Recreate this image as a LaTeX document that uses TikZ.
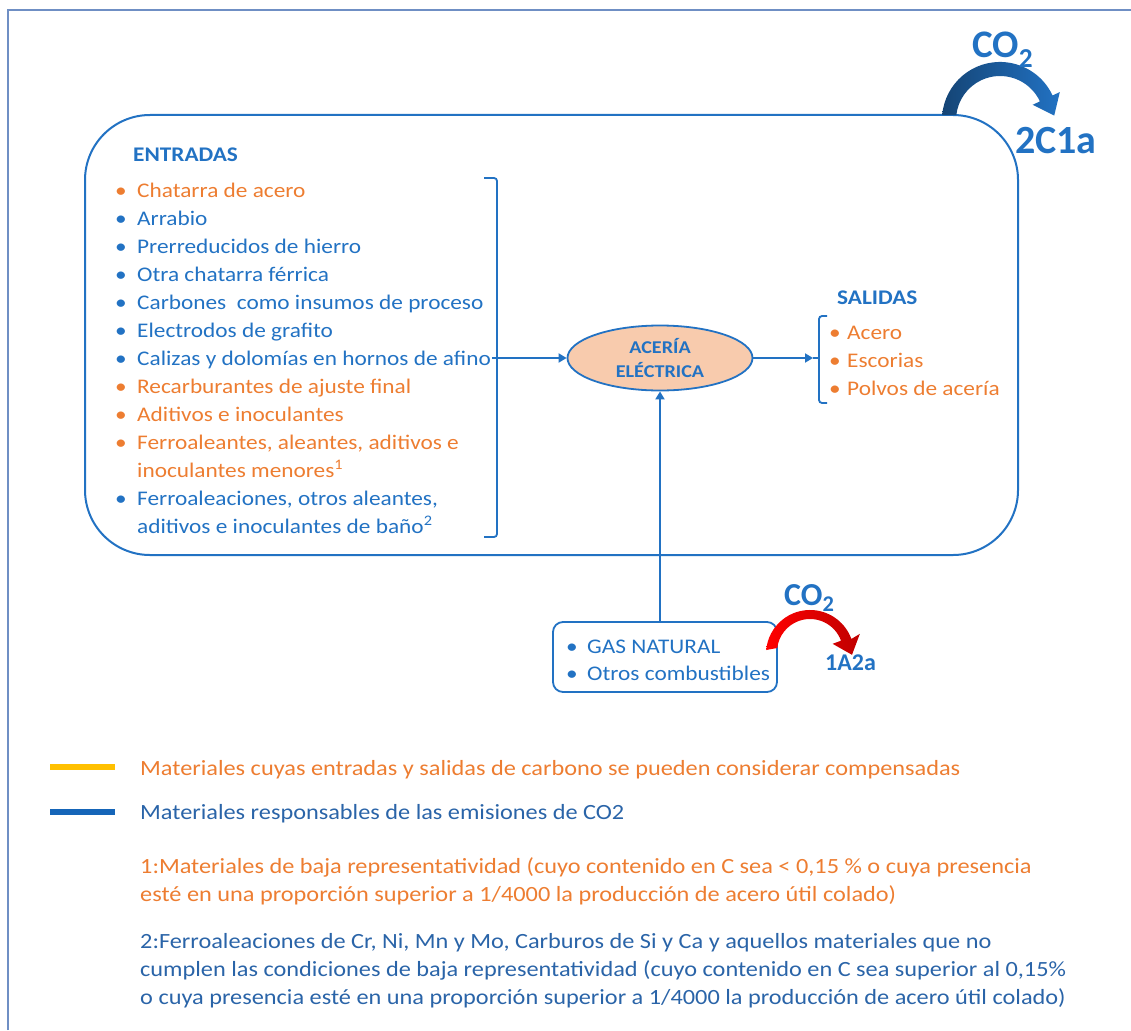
\documentclass[tikz,border=0pt]{standalone}
\usepackage{fontspec}
\setmainfont{Carlito}[FakeStretch=1.12]
\newfontfamily\plainfont{Carlito}
\usetikzlibrary{arrows.meta,shapes.geometric}
\definecolor{dblue}{HTML}{2272C3}
\definecolor{lblue}{HTML}{2A64A8}
\definecolor{orng}{HTML}{ED7D31}
\definecolor{framec}{HTML}{6F8FC4}
\definecolor{peach}{HTML}{F8CBAD}
\definecolor{ylw}{HTML}{FFC000}
\definecolor{legblue}{HTML}{1565B8}
\begin{document}
\begin{tikzpicture}[x=1pt,y=-1pt,
  txt/.style={anchor=base west, inner sep=0pt, font=\fontsize{20.8}{24}\selectfont},
  bluetxt/.style={txt,text=dblue},
  orgtxt/.style={txt,text=orng},
  headtxt/.style={txt,text=dblue,font=\fontsize{20.8}{24}\selectfont\bfseries},
  conn/.style={draw=dblue,line width=1.8pt},
  tipped/.style={conn,-{Triangle[length=8pt,width=9pt]}},
  legtxt/.style={anchor=base west, inner sep=0pt, font=\fontsize{21.7}{26}\selectfont},
  notetxt/.style={anchor=base west, inner sep=0pt, font=\fontsize{21.7}{25}\selectfont},
  co/.style={anchor=base west, inner sep=0pt, text=dblue}]
\useasboundingbox (0,0) rectangle (1131,1030);
% frame
\draw[framec, line width=1.5pt] (8,1030) -- (8,10) -- (1131,10);

% big box
\node[draw=dblue, line width=2pt, rounded corners=65pt, minimum width=933pt, minimum height=440pt, inner sep=0pt] (bigbox) at (551.5,335) {};

% top CO2 arrow
\shade[left color=dblue!60!black, right color=dblue] (942.2,115) arc[start angle=-175.1, end angle=-25, radius=58] -- (1059.8,92.1) -- (1054.2,115.6) -- (1032.6,104.8) -- (1039.9,101.4) arc[start angle=-25, end angle=-173.5, radius=44] -- cycle;
\node[co, font=\plainfont\fontsize{39}{44}\selectfont\bfseries] (co2a) at (972,58) {CO\textsubscript{2}};
\node[co, font=\plainfont\fontsize{40}{44}\selectfont\bfseries] (c1a) at (1015,153) {2C1a};

% entradas
\node[headtxt] (ent) at (133,161) {ENTRADAS};
\foreach \y/\c/\t [count=\i] in {
  197/orng/Chatarra de acero,
  225/dblue/Arrabio,
  253/dblue/Prerreducidos de hierro,
  281/dblue/Otra chatarra férrica,
  309/dblue/Carbones\ \ como insumos de proceso,
  337/dblue/Electrodos de grafito,
  365/dblue/Calizas y dolomías en hornos de afino,
  393/orng/Recarburantes de ajuste final,
  421/orng/Aditivos e inoculantes,
  449/orng/{Ferroaleantes, aleantes, aditivos e},
  505/dblue/{Ferroaleaciones, otros aleantes,}}{
  \node[txt, text=\c] (eb\i) at (115,\y) {•};
  \node[txt, text=\c] (e\i) at (137,\y) {\t};
}
\node[orgtxt] (e10b) at (137,477) {inoculantes menores\textsuperscript{1}};
\node[bluetxt] (e11b) at (137,533) {aditivos e inoculantes de baño\textsuperscript{2}};

% entradas bracket
\draw[conn, rounded corners=3pt] (484,178) -- (497,178) -- (497,537) -- (484,537);
\coordinate (brR) at (492,358);

% ellipse
\node[ellipse, draw=dblue, fill=peach, line width=1.8pt, minimum width=185pt, minimum height=65pt, inner sep=0pt,
  align=center, text=dblue, font=\fontsize{18}{24}\selectfont\bfseries] (acer) at (660,358) {ACERÍA\\ELÉCTRICA};
\draw[tipped] (brR) -- (acer.west);

% salidas
\node[headtxt] (sal) at (837,304) {SALIDAS};
\draw[conn, rounded corners=3pt] (827,316) -- (819,316) -- (819,403) -- (827,403);
\coordinate (salL) at (813,358);
\coordinate (salB) at (819,358);
\draw[tipped] (acer.east) -- (salL);
\draw[conn] (salL) -- (salB);
\foreach \y/\t [count=\i] in {339/Acero, 367/Escorias, 395/Polvos de acería}{
  \node[orgtxt] (sb\i) at (829,\y) {•};
  \node[orgtxt] (s\i) at (847,\y) {\t};
}

% gas box
\node[draw=dblue, line width=1.8pt, rounded corners=10pt, minimum width=224pt, minimum height=70pt, inner sep=0pt] (gas) at (665,657) {};
\node[bluetxt] (gb1) at (566,653) {•};
\node[bluetxt] (g1) at (587,653) {GAS NATURAL};
\node[bluetxt] (gb2) at (566,680) {•};
\node[bluetxt] (g2) at (587,680) {Otros combustibles};
\draw[tipped] (acer.south |- gas.north) -- (acer.south);

% red CO2 arrow
\shade[left color=red, right color=red!75!black] (766.2,650) arc[start angle=-174.8, end angle=-20, radius=44] -- (859.8,633.9) -- (852,654.8) -- (832.6,643.8) -- (841,640.7) arc[start angle=-20, end angle=-173, radius=33] -- cycle;
\node[co, font=\plainfont\fontsize{32}{36}\selectfont\bfseries] (co2b) at (784,605) {CO\textsubscript{2}};
\node[co, font=\plainfont\fontsize{24}{28}\selectfont\bfseries] (a2a) at (825,670) {1A2a};

% legend
\draw[ylw, line width=6pt] (50,767) -- (115,767);
\node[legtxt, text=orng] (leg1) at (140,775) {Materiales cuyas entradas y salidas de carbono se pueden considerar compensadas};
\draw[legblue, line width=6pt] (50,812) -- (115,812);
\node[legtxt, text=lblue] (leg2) at (140,819) {Materiales responsables\ de las emisiones de CO2};

% notes
\node[notetxt, text=orng] (n1a) at (140,873) {1:Materiales de baja representatividad (cuyo contenido en C sea < 0,15 \% o cuya presencia};
\node[notetxt, text=orng] (n1b) at (140,901) {esté en una proporción superior a 1/4000 la producción de acero útil colado)};
\node[notetxt, text=lblue] (n2a) at (140,948) {2:Ferroaleaciones de Cr, Ni, Mn y Mo, Carburos de Si y Ca y aquellos materiales que no};
\node[notetxt, text=lblue] (n2b) at (140,976) {cumplen las condiciones de baja representatividad (cuyo contenido en C sea superior al 0,15\%};
\node[notetxt, text=lblue] (n2c) at (140,1004) {o cuya presencia esté en una proporción superior a 1/4000 la producción de acero útil colado)};
\end{tikzpicture}
\end{document}
